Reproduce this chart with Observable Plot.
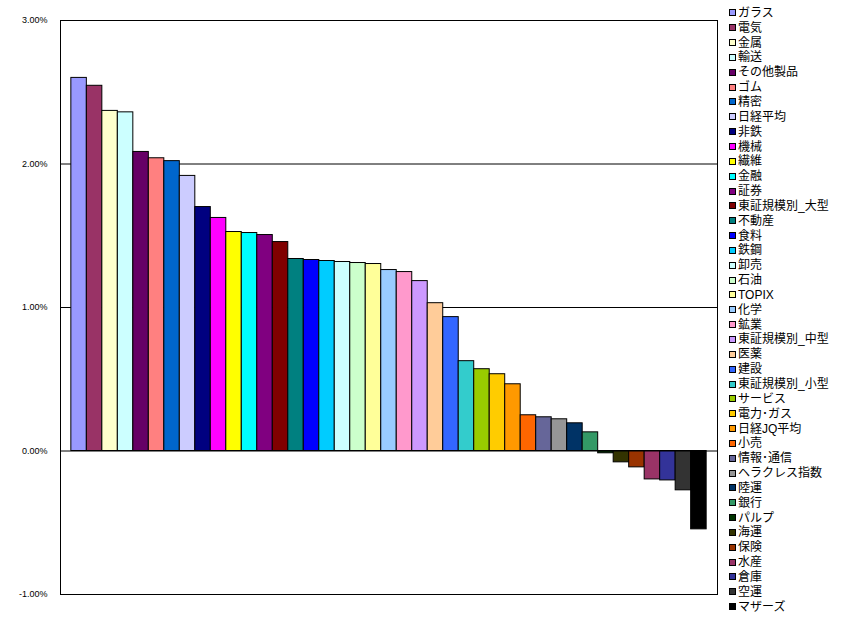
<!DOCTYPE html>
<html>
<head>
<meta charset="utf-8">
<script src="https://cdn.jsdelivr.net/npm/d3@7"></script>
<script src="https://cdn.jsdelivr.net/npm/@observablehq/plot@0.6"></script>
<style>
  html, body { margin: 0; padding: 0; background: #fff; }
  #wrap { position: relative; width: 841px; height: 631px; overflow: hidden; }
  #legend { position: absolute; left: 729px; top: 5.5px; font-family: "Liberation Sans", "Noto Sans CJK JP", sans-serif; font-size: 12px; color: #000; }
  .item { height: 14.85px; white-space: nowrap; display: flex; align-items: center; }
  .sw { width: 5px; height: 5px; border: 1px solid #000; margin-right: 2px; flex: none; }
  .tx { display: block; height: 14px; line-height: 14px; overflow: visible; }
</style>
</head>
<body>
<div id="wrap"><div id="legend"></div></div>
<script>
const names = ["ガラス","電気","金属","輸送","その他製品","ゴム","精密","日経平均","非鉄","機械","繊維","金融","証券","東証規模別_大型","不動産","食料","鉄鋼","卸売","石油","TOPIX","化学","鉱業","東証規模別_中型","医薬","建設","東証規模別_小型","サービス","電力･ガス","日経JQ平均","小売","情報･通信","ヘラクレス指数","陸運","銀行","パルプ","海運","保険","水産","倉庫","空運","マザーズ"];
const values = [2.60,2.545,2.37,2.36,2.084,2.04,2.02,1.917,1.70,1.624,1.526,1.519,1.505,1.456,1.338,1.331,1.324,1.317,1.31,1.303,1.261,1.247,1.184,1.03,0.933,0.626,0.570,0.535,0.465,0.249,0.235,0.221,0.193,0.130,-0.016,-0.079,-0.114,-0.198,-0.205,-0.274,-0.546];
const colors = ["#9999FF","#993366","#FFFFCC","#CCFFFF","#660066","#FF8080","#0066CC","#CCCCFF","#000080","#FF00FF","#FFFF00","#00FFFF","#800080","#800000","#008080","#0000FF","#00CCFF","#CCFFFF","#CCFFCC","#FFFF99","#99CCFF","#FF99CC","#CC99FF","#FFCC99","#3366FF","#33CCCC","#99CC00","#FFCC00","#FF9900","#FF6600","#666699","#969696","#003366","#339966","#003300","#333300","#993300","#993366","#333399","#333333","#000000"];
const yTicks = [-1, 0, 1, 2, 3];
const gridLines = [1, 2];

const data = names.map((n, i) => ({name: n, value: values[i]}));

const chart = Plot.plot({
  width: 841,
  height: 631,
  marginLeft: 60,
  marginRight: 124,
  marginTop: 20,
  marginBottom: 37,
  style: {fontFamily: "'Liberation Sans', Arial, sans-serif", fontSize: "9px", background: "#fff", color: "#000"},
  x: {type: "band", domain: names, paddingInner: 0, paddingOuter: 0.7, round: false, axis: null},
  y: {domain: [-1, 3], ticks: yTicks, tickFormat: d => d.toFixed(2) + "%", tickSize: 0, tickPadding: 13, label: null},
  color: {domain: names, range: colors},
  marks: [
    Plot.ruleY(gridLines, {stroke: "#000", strokeWidth: 1}),
    Plot.barY(data, {x: "name", y: "value", fill: "name", stroke: "#000", strokeWidth: 1}),
    Plot.ruleY([0], {stroke: "#000", strokeWidth: 1}),
    Plot.frame({stroke: "#000", strokeWidth: 1})
  ]
});
document.getElementById("wrap").prepend(chart);

const legend = document.getElementById("legend");
names.forEach((n, i) => {
  const row = document.createElement("div");
  row.className = "item";
  const sw = document.createElement("span");
  sw.className = "sw";
  sw.style.background = colors[i];
  const t = document.createElement("span");
  t.className = "tx";
  t.textContent = n;
  row.appendChild(sw);
  row.appendChild(t);
  legend.appendChild(row);
});
</script>
</body>
</html>
